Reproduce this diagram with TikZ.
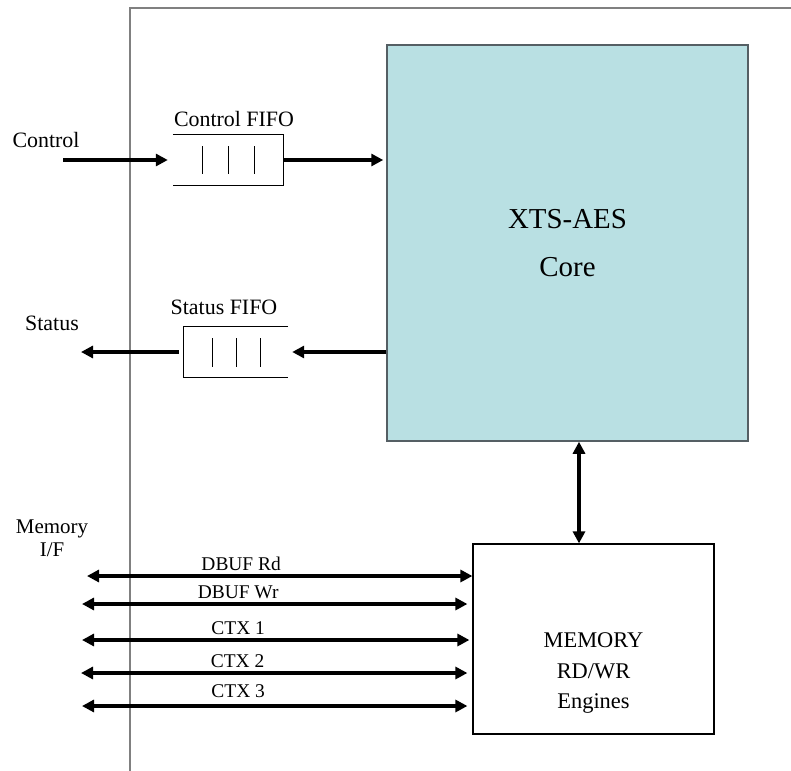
\documentclass[tikz,border=0pt]{standalone}
\usepackage{fontspec}
\setmainfont{Liberation Serif}
\usetikzlibrary{arrows.meta}
\usetikzlibrary{calc}

\definecolor{corefill}{RGB}{185,224,227}
\definecolor{coreline}{RGB}{85,95,100}
\definecolor{frameline}{RGB}{128,128,128}

\tikzset{
	sig/.style={line width=4bp, -{Triangle[length=12bp,width=12bp]}},
	bus/.style={line width=4bp, {Triangle[length=12bp,width=12bp]}-{Triangle[length=12bp,width=12bp]}},
	lbl/.style={font=\fontsize{22}{23}\selectfont, align=center},
	buslbl/.style={font=\fontsize{19.5}{22}\selectfont, anchor=base, yshift=6bp},
	fifo/.style={minimum width=#1, minimum height=51bp, inner sep=0pt},
}

\begin{document}
\begin{tikzpicture}[x=1bp,y=-1bp]

	\useasboundingbox (0,0) rectangle (791,771);

	% chip frame
	\draw[frameline, line width=1.5bp] (130,771) -- (130,8) -- (791,8);

	% blocks
	\node[draw=coreline, line width=1.5bp, fill=corefill, minimum width=361bp, minimum height=396bp,
		font=\fontsize{29}{48}\selectfont, align=center] (core) at (567.5,243) {XTS-AES\\Core};

	\node[draw, line width=1.2bp, minimum width=241bp, minimum height=190bp] (mem) at (593.5,639) {};
	\node[font=\fontsize{22.5}{31}\selectfont, align=center] (memtxt) at (593.5,673) {MEMORY\\RD/WR\\Engines};

	% fifos
	\node[fifo=110bp] (cfifo) at (228,160) {};
	\draw[line width=1bp] (cfifo.north west) -- (cfifo.north east) -- (cfifo.south east) -- (cfifo.south west);
	\draw[line width=1bp] (202,146) -- (202,174) (228,146) -- (228,174) (254,146) -- (254,174);
	\node[lbl] (cfifolbl) at (234,119) {Control FIFO};

	\node[fifo=104bp] (sfifo) at (236,352) {};
	\draw[line width=1bp] (sfifo.north east) -- (sfifo.north west) -- (sfifo.south west) -- (sfifo.south east);
	\draw[line width=1bp] (212,338) -- (212,367) (236,338) -- (236,367) (260,338) -- (260,367);
	\node[lbl] (sfifolbl) at (224,307) {Status FIFO};

	% control / status
	\node[lbl] (ctl) at (46,140) {Control};
	\coordinate (ctlin) at (63,0);
	\draw[sig, shorten >=5bp] (ctlin |- cfifo.west) -- (cfifo.west);
	\draw[sig, shorten >=3bp] (cfifo.east) -- (core.west |- cfifo.east);

	\node[lbl] (st) at (52,323) {Status};
	\coordinate (stout) at (81,0);
	\draw[sig, shorten >=4bp] (core.west |- sfifo.east) -- (sfifo.east);
	\draw[sig, shorten <=5bp] (sfifo.west) -- (stout |- sfifo.west);

	% core <-> memory engines
	\coordinate (cm) at (579,0);
	\draw[bus] (core.south -| cm) -- (mem.north -| cm);

	% memory interface
	\node[font=\fontsize{21}{23}\selectfont, align=center] (memif) at (52,538) {Memory\\I/F};

	\coordinate (rd) at (87,576);
	\coordinate (wr) at (82,604);
	\coordinate (ctxa) at (82,640);
	\coordinate (ctxb) at (81,673);
	\coordinate (ctxc) at (82,706);

	\draw[bus] (rd) -- node[buslbl, pos=0.4] {DBUF Rd} (mem.west |- rd);
	\draw[bus, shorten >=5bp] (wr) -- node[buslbl, pos=0.4] {DBUF Wr} (mem.west |- wr);
	\draw[bus, shorten >=3bp] (ctxa) -- node[buslbl, pos=0.4] {CTX 1} (mem.west |- ctxa);
	\draw[bus, shorten >=5bp] (ctxb) -- node[buslbl, pos=0.4] {CTX 2} (mem.west |- ctxb);
	\draw[bus, shorten >=5bp] (ctxc) -- node[buslbl, pos=0.4, yshift=3bp] {CTX 3} (mem.west |- ctxc);

\end{tikzpicture}
\end{document}
